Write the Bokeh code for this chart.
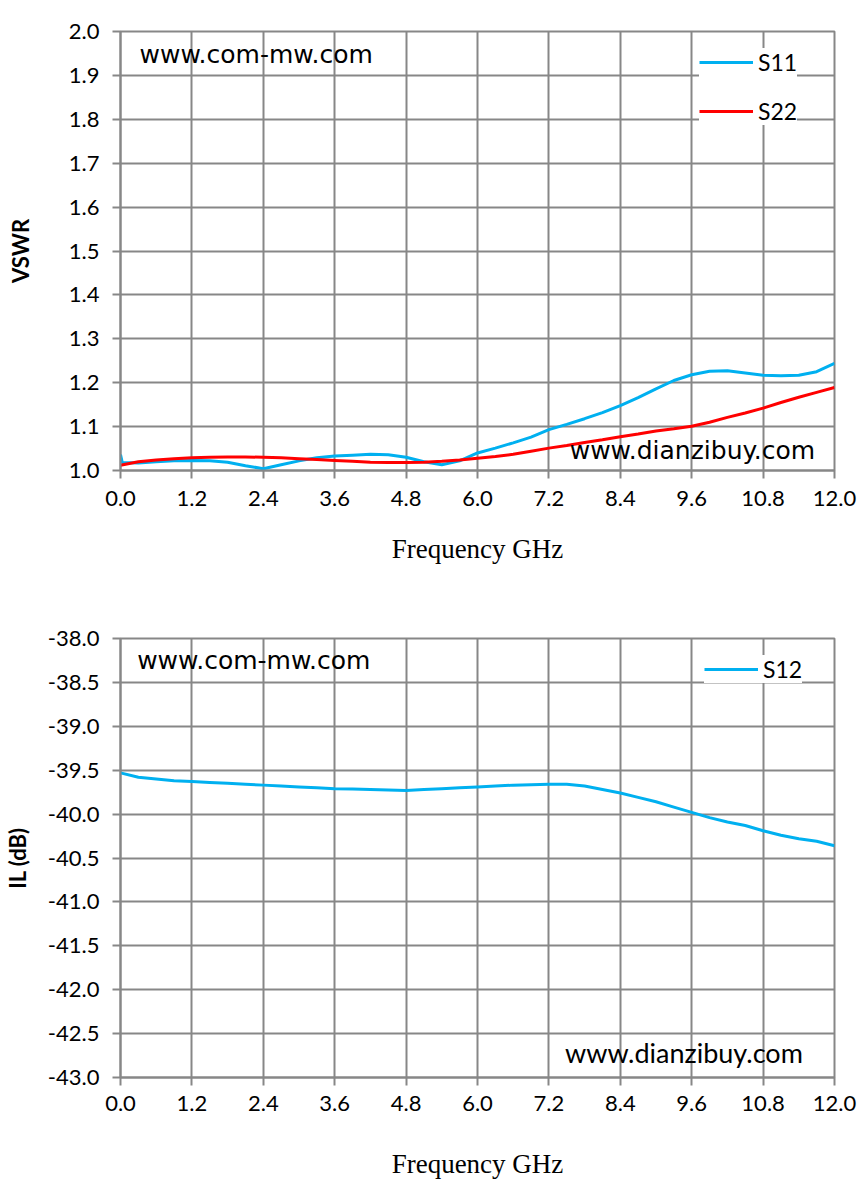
from bokeh.plotting import figure
from bokeh.models import FixedTicker, NumeralTickFormatter, Label, Range1d, Legend, LegendItem
from bokeh.layouts import column
from bokeh.embed import file_html
from bokeh.resources import INLINE

# ---------------- data ----------------
x_ticks = [0.0, 1.2, 2.4, 3.6, 4.8, 6.0, 7.2, 8.4, 9.6, 10.8, 12.0]
vswr_ticks = [1.0, 1.1, 1.2, 1.3, 1.4, 1.5, 1.6, 1.7, 1.8, 1.9, 2.0]
il_ticks = [-43.0, -42.5, -42.0, -41.5, -41.0, -40.5, -40.0, -39.5, -39.0, -38.5, -38.0]

freq = [0.0, 0.3, 0.6, 0.9, 1.2, 1.5, 1.8, 2.1, 2.4, 2.7, 3.0, 3.3, 3.6, 3.9,
        4.2, 4.5, 4.8, 5.1, 5.4, 5.7, 6.0, 6.3, 6.6, 6.9, 7.2, 7.5, 7.8, 8.1,
        8.4, 8.7, 9.0, 9.3, 9.6, 9.9, 10.2, 10.5, 10.8, 11.1, 11.4, 11.7, 12.0]

s11_freq = [0.0, 0.03] + freq[1:]
s11 = [1.036, 1.018, 1.017, 1.020, 1.022, 1.023, 1.022, 1.019, 1.011, 1.004,
       1.013, 1.022, 1.029, 1.033, 1.035, 1.037, 1.036, 1.030, 1.020, 1.013,
       1.022, 1.040, 1.051, 1.063, 1.076, 1.093, 1.105, 1.118, 1.132, 1.148,
       1.166, 1.186, 1.205, 1.218, 1.226, 1.227, 1.222, 1.217, 1.216, 1.217,
       1.225, 1.244]

s22 = [1.012, 1.020, 1.024, 1.027, 1.029, 1.030, 1.031, 1.031, 1.030, 1.029,
       1.027, 1.025, 1.023, 1.021, 1.019, 1.018, 1.018, 1.019, 1.021, 1.024,
       1.028, 1.032, 1.037, 1.044, 1.051, 1.057, 1.064, 1.070, 1.077, 1.083,
       1.090, 1.095, 1.101, 1.110, 1.121, 1.131, 1.142, 1.155, 1.167, 1.178,
       1.189]

s12 = [-39.53, -39.58, -39.60, -39.62, -39.63, -39.64, -39.65, -39.66, -39.67,
       -39.68, -39.69, -39.70, -39.71, -39.715, -39.72, -39.725, -39.73, -39.72,
       -39.71, -39.70, -39.69, -39.68, -39.67, -39.665, -39.66, -39.66, -39.68,
       -39.72, -39.76, -39.81, -39.86, -39.92, -39.98, -40.04, -40.09, -40.13,
       -40.19, -40.24, -40.28, -40.31, -40.36]

# ---------------- style ----------------
GRID = "#878787"
BLUE = "#00B0F0"
RED = "#FF0000"


def make_fig(y_range, y_ticks, y_label, border_top, border_bottom,
             tick_standoff, xlabel_standoff, ylabel_standoff):
    p = figure(frame_width=714, frame_height=439,
               x_range=Range1d(0, 12), y_range=y_range,
               output_backend="svg", toolbar_location=None,
               min_border_left=117, min_border_right=26,
               min_border_top=border_top, min_border_bottom=border_bottom)
    p.background_fill_color = "white"
    p.border_fill_color = "white"
    p.outline_line_color = GRID
    p.outline_line_width = 2
    p.xaxis.ticker = FixedTicker(ticks=x_ticks)
    p.yaxis.ticker = FixedTicker(ticks=y_ticks)
    p.xaxis.formatter = NumeralTickFormatter(format="0.0")
    p.yaxis.formatter = NumeralTickFormatter(format="0.0")
    for ax in p.axis:
        ax.axis_line_color = GRID
        ax.axis_line_width = 2
        ax.major_tick_line_color = GRID
        ax.major_tick_line_width = 2
        ax.major_tick_out = 8
        ax.major_tick_in = 0
        ax.minor_tick_line_color = None
        ax.major_label_text_font = "Lato"
        ax.major_label_text_font_size = "22px"
        ax.major_label_text_color = "black"
    p.xaxis.major_label_standoff = tick_standoff
    p.yaxis.major_label_standoff = 13
    p.xaxis.axis_label = "Frequency GHz"
    p.xaxis.axis_label_text_font = "Liberation Serif"
    p.xaxis.axis_label_text_font_size = "27px"
    p.xaxis.axis_label_text_font_style = "normal"
    p.xaxis.axis_label_text_color = "black"
    p.xaxis.axis_label_standoff = xlabel_standoff
    p.yaxis.axis_label = y_label
    p.yaxis.axis_label_text_font = "Lato"
    p.yaxis.axis_label_text_font_size = "22px"
    p.yaxis.axis_label_text_font_style = "bold"
    p.yaxis.axis_label_text_color = "black"
    p.yaxis.axis_label_standoff = ylabel_standoff
    p.grid.grid_line_color = GRID
    p.grid.grid_line_width = 2
    return p


def add_text(p, x, y, text, font, size):
    p.add_layout(Label(x=x, y=y, text=text, text_font=font,
                       text_font_size=size, text_baseline="alphabetic",
                       text_color="black"))


# ---------------- top chart: VSWR ----------------
p1 = make_fig(Range1d(1.0, 2.0), vswr_ticks, "VSWR", 31, 145, 12, 25, 32)
r11 = p1.line(s11_freq, s11, line_color=BLUE, line_width=3)
r22 = p1.line(freq, s22, line_color=RED, line_width=3)
leg1 = Legend(items=[LegendItem(label="S11", renderers=[r11]),
                     LegendItem(label="S22", renderers=[r22])],
              location=(579, 345))
p1.add_layout(leg1)
add_text(p1, 0.32, 1.9469, "www.com-mw.com", "DejaVu Sans", "25px")
add_text(p1, 7.55, 1.0449, "www.dianzibuy.com", "DejaVu Sans", "25px")

# ---------------- bottom chart: IL ----------------
p2 = make_fig(Range1d(-43.0, -38.0), il_ticks, "IL (dB)", 23, 104, 10, 35, 14)
r12 = p2.line(freq, s12, line_color=BLUE, line_width=3)
leg2 = Legend(items=[LegendItem(label="S12", renderers=[r12])],
              location=(584, 394))
p2.add_layout(leg2)
add_text(p2, 0.28, -38.254, "www.com-mw.com", "DejaVu Sans", "25px")
add_text(p2, 7.47, -42.72, "www.dianzibuy.com", "Lato", "27px")

for lg in (leg1, leg2):
    lg.margin = 0
    lg.padding = 12
    lg.spacing = 21
    lg.glyph_width = 54
    lg.glyph_height = 28
    lg.label_height = 28
    lg.label_standoff = 5
    lg.border_line_color = None
    lg.background_fill_color = "white"
    lg.background_fill_alpha = 1.0
    lg.label_text_font = "Lato"
    lg.label_text_font_size = "23px"
    lg.label_text_color = "black"

layout = column(p1, p2)
open("out.html", "w").write(file_html(layout, INLINE))
